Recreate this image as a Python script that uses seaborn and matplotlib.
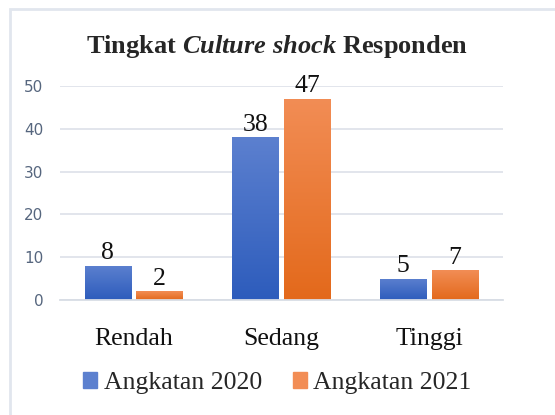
import numpy as np
import pandas as pd
import matplotlib
matplotlib.use("Agg")
import matplotlib.pyplot as plt
import seaborn as sns
from matplotlib.colors import LinearSegmentedColormap
from matplotlib.patches import Rectangle

# ========== DATA ==========
categories = ["Rendah", "Sedang", "Tinggi"]
series_names = ["Angkatan 2020", "Angkatan 2021"]
angkatan_2020 = [8, 38, 5]
angkatan_2021 = [2, 47, 7]
y_ticks = [0, 10, 20, 30, 40, 50]

df = pd.DataFrame({
    "Tingkat": categories * 2,
    "Angkatan": [series_names[0]] * 3 + [series_names[1]] * 3,
    "Jumlah": angkatan_2020 + angkatan_2021,
})

# ========== STYLE ==========
sns.set_theme(style="white")
plt.rcParams["font.family"] = ["Liberation Serif", "DejaVu Serif"]
plt.rcParams["mathtext.fontset"] = "custom"
plt.rcParams["mathtext.it"] = "Liberation Serif:italic:bold"
plt.rcParams["mathtext.rm"] = "Liberation Serif:bold"

base_colors = {series_names[0]: "#4472c4", series_names[1]: "#ed7d31"}
gradients = {
    series_names[0]: ("#2d5cbc", "#5c80cf"),
    series_names[1]: ("#e3691b", "#f28d55"),
}

fig = plt.figure(figsize=(5.55, 4.15), dpi=100)
ax = fig.add_axes([0.108, 0.277, 0.798, 0.516])

sns.barplot(data=df, x="Tingkat", y="Jumlah", hue="Angkatan", order=categories,
            hue_order=series_names, palette=base_colors, width=0.7, gap=0.1,
            ax=ax, legend=False)

# gradient fill on every bar
for container, name in zip(ax.containers, series_names):
    lo, hi = gradients[name]
    cmap = LinearSegmentedColormap.from_list(name, [lo, hi])
    for bar in container:
        x0, y0 = bar.get_x(), bar.get_y()
        w, h = bar.get_width(), bar.get_height()
        bar.set_facecolor("none")
        bar.set_edgecolor("none")
        grad = np.linspace(0, 1, 256).reshape(-1, 1)
        im = ax.imshow(grad, cmap=cmap, origin="lower", aspect="auto",
                       extent=[x0, x0 + w, y0, y0 + h], zorder=2)
        im.set_clip_path(bar)
    ax.bar_label(container, fontsize=18.5, padding=1, color="#111111")

ax.set_xlim(-0.5, 2.5)
ax.set_ylim(0, 50)
ax.set_yticks(y_ticks)
ax.set_yticklabels([str(t) for t in y_ticks], family="DejaVu Sans",
                   fontsize=11, color="#56667e")
ax.tick_params(axis="x", labelsize=18.5, pad=20, length=0, colors="#111111")
ax.tick_params(axis="y", length=0, pad=12)
ax.set_xlabel("")
ax.set_ylabel("")
ax.yaxis.grid(True, color="#dfe3ea", linewidth=1.3)
ax.set_axisbelow(True)
for side in ["top", "right", "left"]:
    ax.spines[side].set_visible(False)
ax.spines["bottom"].set_color("#d8dde5")
ax.spines["bottom"].set_linewidth(1.3)

# title with italic part
fig.text(0.5, 0.888, "Tingkat $\\mathit{Culture\\ shock}$ Responden",
         ha="center", va="center", fontsize=19, fontweight="bold")

# legend
handles = [Rectangle((0, 0), 1, 1, color=gradients[n][1]) for n in series_names]
fig.legend(handles, series_names, loc="center", bbox_to_anchor=(0.5, 0.077),
           ncol=2, frameon=False, fontsize=18.5, handlelength=0.55,
           handleheight=0.55, handletextpad=0.25, columnspacing=1.2)

# outer chart border
fig.patches.append(Rectangle((9.5 / 555, -0.1), 1.2, 1.1 - 9.5 / 415,
                             transform=fig.transFigure, fill=False,
                             edgecolor="#e1e6ee", linewidth=2))

fig.savefig("out.png", dpi=100)
